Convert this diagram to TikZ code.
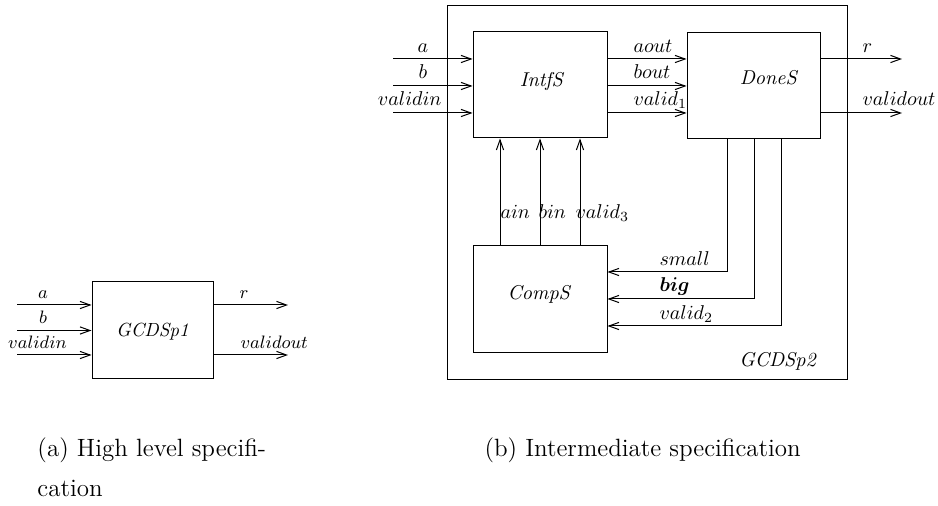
\documentclass[tikz,border=0pt]{standalone}
\usepackage{bm}
\usetikzlibrary{arrows.meta}
\begin{document}
\begin{tikzpicture}[x=0.5pt,y=-0.5pt,line width=0.5pt,
  blk/.style={draw,rectangle,inner sep=0pt},
  arr/.style={-{Straight Barb[length=5pt,width=3.6pt]}},
  lab/.style={inner sep=0pt,anchor=base},
  labw/.style={inner sep=0pt,anchor=base west},
  labe/.style={inner sep=0pt,anchor=base east},
  small/.style={font=\fontsize{9}{11}\selectfont},
  captiontext/.style={inner sep=0pt,anchor=base west,font=\fontsize{12.5}{15}\selectfont}]
\useasboundingbox (0,0) rectangle (938,506);

% ---------- (a) GCDSp1 ----------
\node[blk,minimum width=60.5pt,minimum height=48.5pt] (g1) at (152.5,330.5) {};
\node[lab,font=\fontsize{9.5}{11}\selectfont] (g1name) at (152.5,337) {\textit{GCDSp1}};
\coordinate (ia) at (17,305);
\coordinate (ib) at (17,330.5);
\coordinate (iv) at (17,355);
\coordinate (oa) at (288,305);
\coordinate (ov) at (288,355);
\draw[arr] (ia) -- (ia -| g1.west);
\draw[arr] (ib) -- (ib -| g1.west);
\draw[arr] (iv) -- (iv -| g1.west);
\draw[arr] (oa -| g1.east) -- (oa);
\draw[arr] (ov -| g1.east) -- (ov);
\node[lab,small] (la) at (43,299) {$a$};
\node[lab,small] (lb) at (43,324) {$b$};
\node[lab,small] (lvi) at (37.5,349) {$validin$};
\node[labw,small] (lr) at (239,299) {$r$};
\node[labw,small] (lvo) at (240,349) {$validout$};

% ---------- (b) GCDSp2 ----------
\node[blk,minimum width=200pt,minimum height=187pt] (outer) at (647,193) {};
\node[lab] (g2name) at (778,367) {\textit{GCDSp2}};

\node[blk,minimum width=67pt,minimum height=53pt] (intf) at (540,85) {};
\node[lab] (intfname) at (542,87) {\textit{IntfS}};
\node[blk,minimum width=66.5pt,minimum height=53pt] (dones) at (753.5,86) {};
\node[lab] (donesname) at (769,85) {\textit{DoneS}};
\node[blk,minimum width=67pt,minimum height=53.5pt] (comps) at (540,299.5) {};
\node[lab] (compsname) at (539.5,300) {\textit{CompS}};

% inputs of IntfS
\coordinate (ra) at (393,59);
\coordinate (rb) at (393,86);
\coordinate (rv) at (393,113);
\draw[arr] (ra) -- (ra -| intf.west);
\draw[arr] (rb) -- (rb -| intf.west);
\draw[arr] (rv) -- (rv -| intf.west);
\node[lab] (ra2) at (423,53) {$a$};
\node[lab] (rb2) at (423,79) {$b$};
\node[labe] (rv2) at (442,106) {$validin$};

% IntfS to DoneS
\draw[arr] (ra -| intf.east) -- (ra -| dones.west);
\draw[arr] (rb -| intf.east) -- (rb -| dones.west);
\draw[arr] (rv -| intf.east) -- (rv -| dones.west);
\node[labw] (laout) at (633,53) {$aout$};
\node[labw] (lbout) at (633,79) {$bout$};
\node[labw] (lv1) at (633,106) {$valid_1$};

% outputs of DoneS
\coordinate (dr) at (902,59);
\coordinate (dv) at (902,113);
\draw[arr] (dr -| dones.east) -- (dr);
\draw[arr] (dv -| dones.east) -- (dv);
\node[labw] (lr2) at (862,53) {$r$};
\node[labw] (lvo2) at (862,106) {$validout$};

% DoneS back to CompS
\coordinate (s1) at (727,272);
\coordinate (s2) at (754,299);
\coordinate (s3) at (781,326);
\draw[arr] (s1 |- dones.south) -- (s1) -- (s1 -| comps.east);
\draw[arr] (s2 |- dones.south) -- (s2) -- (s2 -| comps.east);
\draw[arr] (s3 |- dones.south) -- (s3) -- (s3 -| comps.east);
\node[labw] (lsmall) at (659,266) {$small$};
\node[labw] (lbig) at (659,292) {$\bm{big}$};
\node[labw] (lv2) at (659,320) {$valid_2$};

% CompS up to IntfS
\coordinate (u1) at (500,200);
\coordinate (u2) at (540,200);
\coordinate (u3) at (580,200);
\draw[arr] (u1 |- comps.north) -- (u1 |- intf.south);
\draw[arr] (u2 |- comps.north) -- (u2 |- intf.south);
\draw[arr] (u3 |- comps.north) -- (u3 |- intf.south);
\node[labw] (lain) at (500,219) {$ain$};
\node[labw] (lbin) at (538,219) {$bin$};
\node[labw] (lv3) at (575,219) {$valid_3$};

% captions
\node[captiontext] (capa) at (37,457) {(a) High level specifi-};
\node[captiontext] (capa2) at (37,497) {cation};
\node[captiontext] (capb) at (484,457) {(b) Intermediate specification};
\end{tikzpicture}
\end{document}
